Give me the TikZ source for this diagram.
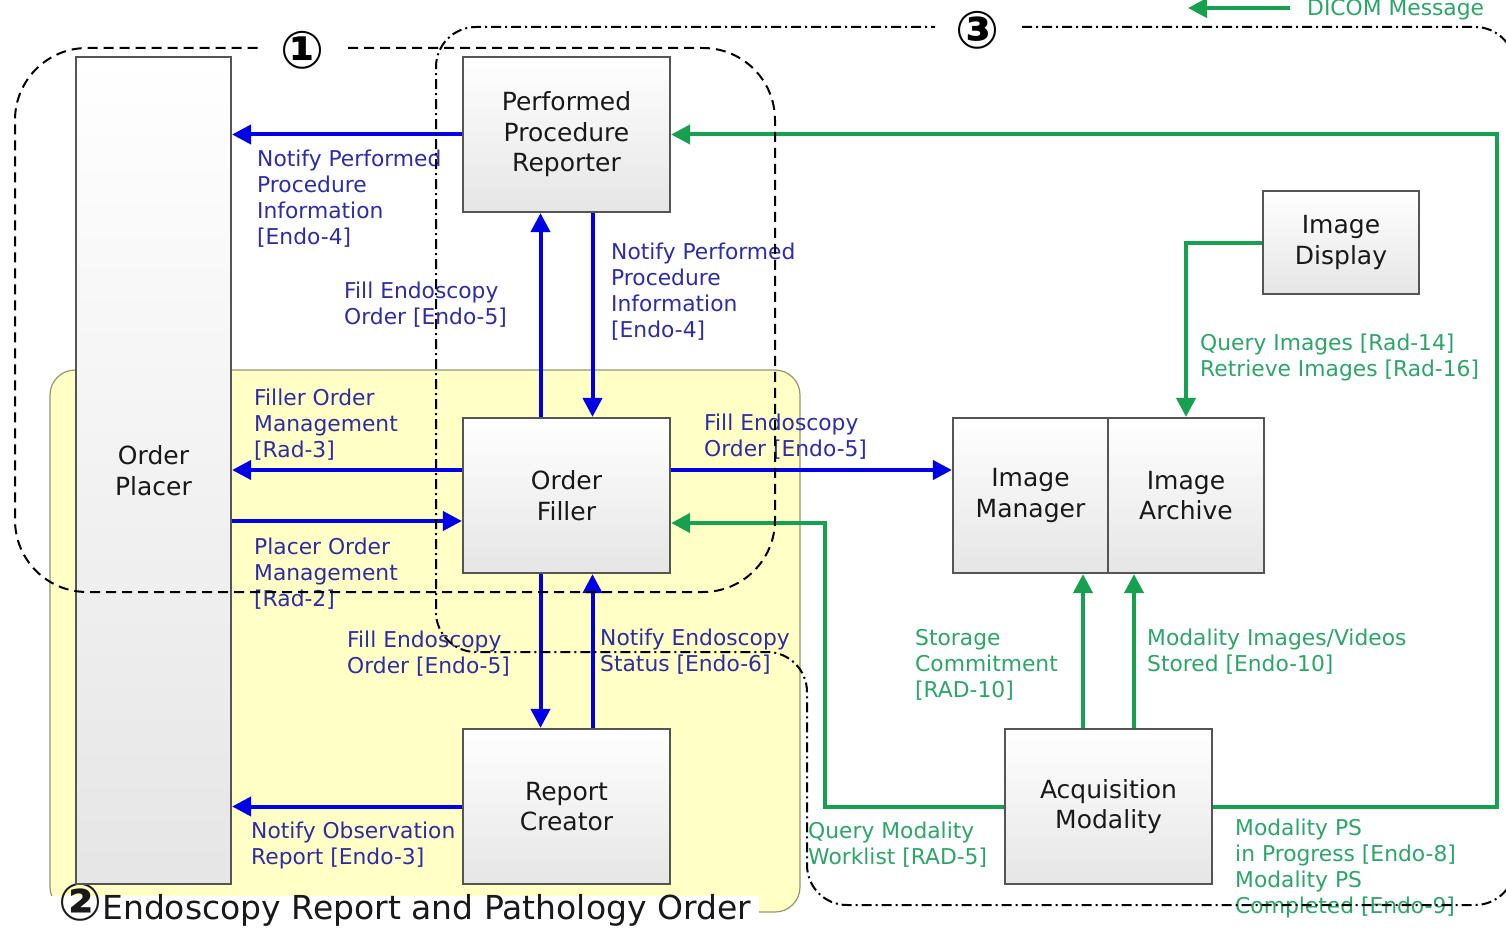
\documentclass[tikz,border=0pt]{standalone}
\usepackage{fontspec}
\setmainfont{DejaVu Sans}
\usetikzlibrary{arrows.meta,calc}
\definecolor{arrblue}{RGB}{0,0,230}
\definecolor{lblblue}{RGB}{45,45,165}
\definecolor{arrgreen}{RGB}{22,160,80}
\definecolor{lblgreen}{RGB}{45,165,105}
\definecolor{boxedge}{RGB}{85,85,85}
\definecolor{yelfill}{RGB}{255,255,198}
\definecolor{yeledge}{RGB}{150,150,110}
\newcommand\myboxfont{\fontsize{25}{30.5}\selectfont}
\newcommand\mylblfont{\fontsize{21.8}{26}\selectfont}
\tikzset{
  box/.style={draw=boxedge, line width=2.2pt, top color=white, bottom color=black!10,
    font=\myboxfont, text=black!90, align=center, inner sep=0pt,
    minimum width=207pt, minimum height=155pt},
  ba/.style={draw=arrblue, line width=4pt, -{Triangle[length=19pt,width=19pt]}},
  ga/.style={draw=arrgreen, line width=4pt, -{Triangle[length=19pt,width=19pt]}},
  bl/.style={text=lblblue, font=\mylblfont, align=left, anchor=north west, inner sep=0pt},
  gl/.style={text=lblgreen, font=\mylblfont, align=left, anchor=north west, inner sep=0pt},
  regone/.style={draw=black, line width=2pt, dash pattern=on 10pt off 6pt},
  regthree/.style={draw=black, line width=2pt, dash pattern=on 10pt off 4pt on 2pt off 4pt},
  circnum/.style={font=\bfseries\fontsize{52}{52}\selectfont, inner sep=0pt, fill=white},
}
\begin{document}
\begin{tikzpicture}[x=1pt,y=-1pt]
\useasboundingbox (0,0) rectangle (1506,928);
\fill[white] (0,0) rectangle (1506,928);
% region 2 (yellow)
\path[fill=yelfill, draw=yeledge, line width=1.2pt, rounded corners=25pt] (50,370) rectangle (800,912);
% title of region 2 (white band under it)
\node[anchor=base west, fill=white, inner xsep=8pt, inner ysep=0pt, text height=23pt, text depth=8pt,
  font=\fontsize{33}{36}\selectfont, text=black!90] (title) at (50,919)
  {{\bfseries\fontsize{52}{52}\selectfont\raisebox{-1pt}{②}}Endoscopy Report and Pathology Order};
% boxes
\node[box, minimum width=155pt, minimum height=827pt] (op) at (153.5,470.5) {Order\\Placer};
\node[box] (ppr) at (566.5,134.5) {Performed\\Procedure\\Reporter};
\node[box] (of) at (566.5,495.5) {Order\\Filler};
\node[box] (rc) at (566.5,806.5) {Report\\Creator};
\node[box, minimum width=155pt] (im) at (1030.5,495.5) {Image\\Manager};
\node[box, minimum width=156pt] (ia) at (1186,495.5) {Image\\Archive};
\node[box, minimum width=156pt, minimum height=103pt] (id) at (1341,242.5) {Image\\Display};
\node[box] (am) at (1108.5,806.5) {Acquisition\\Modality};
% blue arrows
\draw[ba] (ppr.west) -- (ppr.west -| op.east);
\draw[ba] ([yshift=25.5pt]of.west) -- ([yshift=25.5pt]of.west -| op.east);
\draw[ba] ([yshift=-25.5pt]of.west -| op.east) -- ([yshift=-25.5pt]of.west);
\draw[ba] (rc.west) -- (rc.west -| op.east);
\draw[ba] ([xshift=-26pt]of.north) -- ([xshift=-26pt]ppr.south);
\draw[ba] ([xshift=26pt]ppr.south) -- ([xshift=26pt]of.north);
\draw[ba] ([xshift=-26pt]of.south) -- ([xshift=-26pt]rc.north);
\draw[ba] ([xshift=26pt]rc.north) -- ([xshift=26pt]of.south);
\draw[ba] ([yshift=25.5pt]of.east) -- ([yshift=25.5pt]of.east -| im.west);
% green arrows
\coordinate (rc1) at (1497,134.5);
\coordinate (lc1) at (825,523);
\draw[ga] (am.east) -| (rc1) -- (ppr.east);
\draw[ga] (am.west) -| (lc1) -- (lc1 -| of.east);
\draw[ga] ([xshift=-25.5pt]am.north) -- ([xshift=-25.5pt]am.north |- im.south);
\draw[ga] ([xshift=25.5pt]am.north) -- ([xshift=25.5pt]am.north |- ia.south);
\draw[ga] (id.west) -| (ia.north);
% legend
\coordinate (lgA) at (1290,8);
\coordinate (lgB) at (1188,8);
\draw[ga] (lgA) -- (lgB);
\node[gl, anchor=base west] (lgt) at (1307,16) {DICOM Message};
% blue labels
\node[bl] (n1) at (257,150) {Notify Performed\\Procedure\\Information\\{}[Endo-4]};
\node[bl] (n2) at (344,282) {Fill Endoscopy\\Order [Endo-5]};
\node[bl] (n3) at (611,243) {Notify Performed\\Procedure\\Information\\{}[Endo-4]};
\node[bl] (n4) at (254,389) {Filler Order\\Management\\{}[Rad-3]};
\node[bl] (n5) at (254,538) {Placer Order\\Management\\{}[Rad-2]};
\node[bl] (n6) at (347,631) {Fill Endoscopy\\Order [Endo-5]};
\node[bl] (n7) at (600,629) {Notify Endoscopy\\Status [Endo-6]};
\node[bl] (n8) at (251,822) {Notify Observation\\Report [Endo-3]};
\node[bl] (n9) at (704,414) {Fill Endoscopy\\Order [Endo-5]};
% green labels
\node[gl] (g1) at (1200,334) {Query Images [Rad-14]\\Retrieve Images [Rad-16]};
\node[gl] (g2) at (915,629) {Storage\\Commitment\\{}[RAD-10]};
\node[gl] (g3) at (1147,629) {Modality Images/Videos\\Stored [Endo-10]};
\node[gl] (g4) at (808,822) {Query Modality\\Worklist [RAD-5]};
\node[gl] (g5) at (1235,819) {Modality PS\\in Progress [Endo-8]\\Modality PS\\Completed [Endo-9]};
% region boundaries
\draw[regone, rounded corners=72pt] (348,48) -- (775,48) -- (775,592) -- (15,592) -- (15,48) -- (258,48);
\draw[regthree, rounded corners=40pt] (1022,27) -- (1515,27) -- (1515,905) -- (807,905) -- (807,652) -- (436,652) -- (436,27) -- (935,27);
% region numbers
\node[circnum] (c1) at (303,50) {①};
\node[circnum] (c3) at (977,30) {③};
\end{tikzpicture}
\end{document}
